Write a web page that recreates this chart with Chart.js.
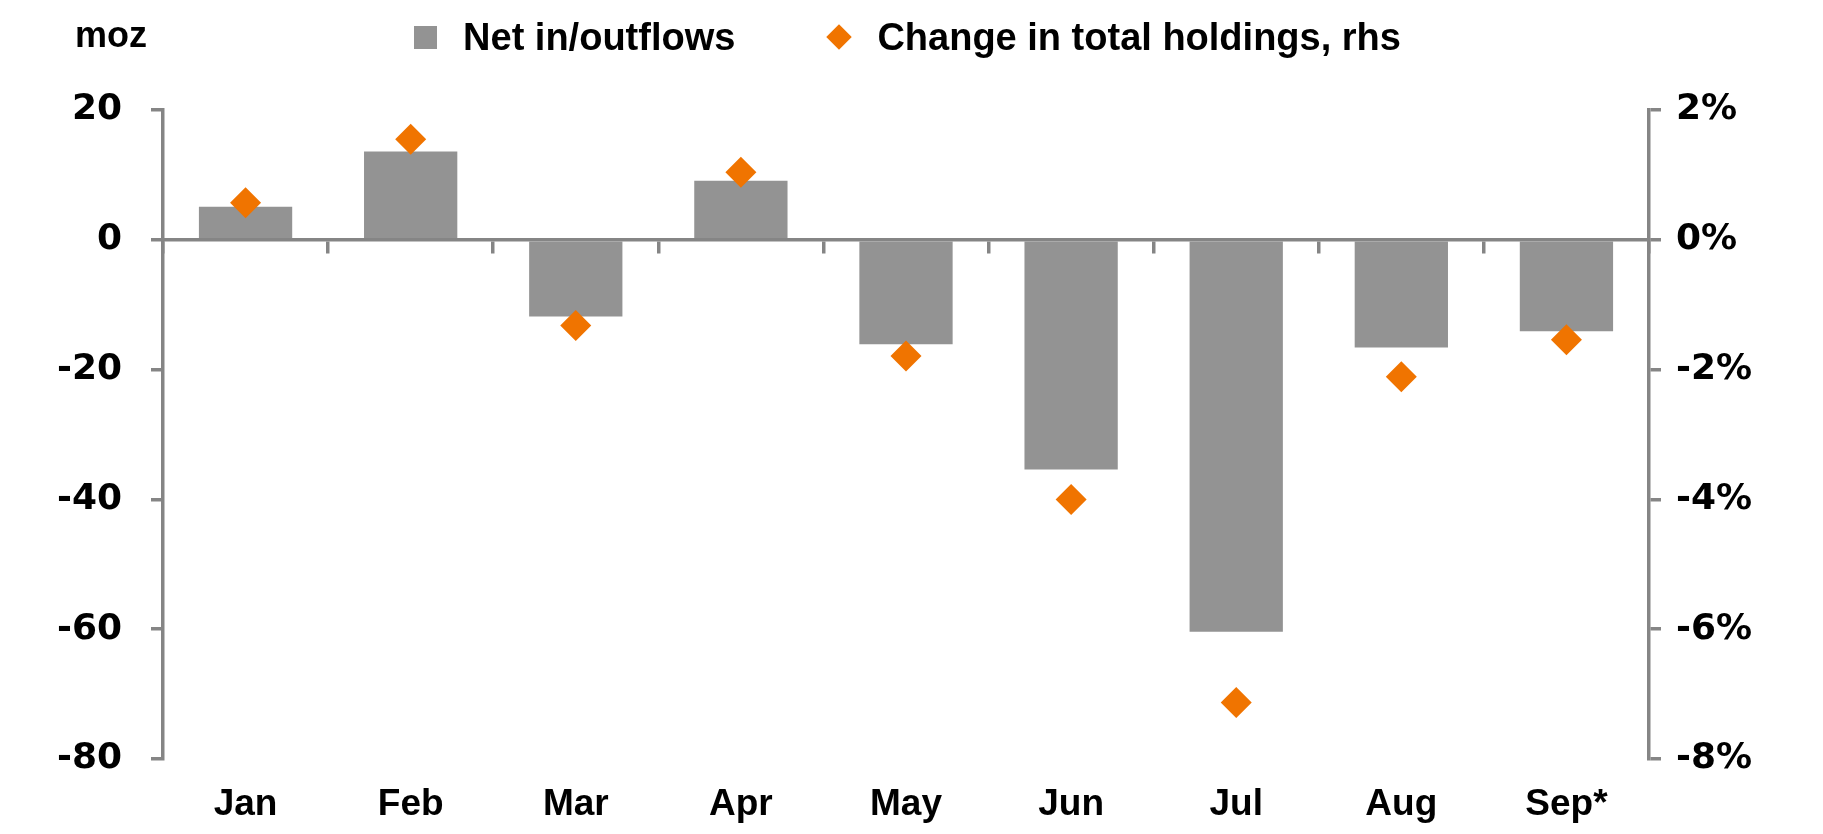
<!DOCTYPE html>
<html>
<head>
<meta charset="utf-8">
<title>Net in/outflows</title>
<script src="https://cdn.jsdelivr.net/npm/chart.js@4.4.1/dist/chart.umd.min.js"></script>
<style>
  html, body { margin: 0; padding: 0; background: #fff; }
  #wrap { position: relative; width: 1823px; height: 834px; }
  #chart { position: absolute; left: 0; top: 0; }
  .unit {
    position: absolute; left: 75px; top: 17px;
    font: bold 36px "Liberation Sans", Arial, sans-serif; line-height: 36px; color: #000;
  }
  .legend {
    position: absolute; left: 0; top: 18px; width: 1823px;
    display: flex; justify-content: center; align-items: center;
    font: bold 38px "Liberation Sans", Arial, sans-serif; line-height: 38px; color: #000;
  }
  .sq { width: 23px; height: 23px; background: #939393; margin-right: 26px; margin-left: -8px; }
  .dia { width: 18px; height: 18px; background: #f07400; transform: rotate(45deg); margin: 0 29px 0 95px; }
</style>
</head>
<body>
<div id="wrap">
  <canvas id="chart" width="1823" height="834"></canvas>
  <div class="unit">moz</div>
  <div class="legend" id="legend"></div>
</div>
<script>
const months = ["Jan", "Feb", "Mar", "Apr", "May", "Jun", "Jul", "Aug", "Sep*"];
const netFlows = [5.1, 13.6, -11.8, 9.1, -16.1, -35.4, -60.4, -16.6, -14.1];
const holdingsChange = [0.57, 1.55, -1.32, 1.04, -1.79, -4.0, -7.13, -2.11, -1.54];
const leftTicks = [-80, -60, -40, -20, 0, 20];
const rightTicks = [-8, -6, -4, -2, 0, 2];
const seriesNames = ["Net in/outflows", "Change in total holdings, rhs"];

const GREY = "#939393";
const ORANGE = "#f07400";
const AXIS = "#858585";

// legend drawn as html so the spacing matches
function renderLegend() {
  const legend = document.getElementById("legend");
  legend.innerHTML = "";
  const sq = document.createElement("span");
  sq.className = "sq";
  legend.appendChild(sq);
  const t1 = document.createElement("span");
  t1.textContent = seriesNames[0];
  legend.appendChild(t1);
  const dia = document.createElement("span");
  dia.className = "dia";
  legend.appendChild(dia);
  const t2 = document.createElement("span");
  t2.textContent = seriesNames[1];
  legend.appendChild(t2);
}

function yAxis(ticks, side, width, fmt, pad) {
  return {
    position: side,
    min: ticks[0],
    max: ticks[ticks.length - 1],
    afterFit: (s) => { s.width = width; },
    ticks: {
      stepSize: ticks[1] - ticks[0],
      padding: pad,
      color: "#000",
      font: { family: '"DejaVu Sans", sans-serif', size: 36, weight: "bold" },
      callback: fmt,
    },
    grid: {
      drawOnChartArea: false,
      drawTicks: true,
      tickLength: 12,
      color: AXIS,
      lineWidth: 3.5,
    },
    border: { display: true, color: AXIS, width: 3.5 },
  };
}

function drawChart() {
  const ctx = document.getElementById("chart").getContext("2d");
  new Chart(ctx, {
    data: {
      labels: months,
      datasets: [
        {
          type: "line",
          label: seriesNames[1],
          data: holdingsChange,
          yAxisID: "y1",
          showLine: false,
          pointStyle: "rectRot",
          pointRadius: 15.5,
          pointBackgroundColor: ORANGE,
          pointBorderWidth: 0,
          clip: false,
          order: 0,
        },
        {
          type: "bar",
          label: seriesNames[0],
          data: netFlows,
          yAxisID: "y",
          backgroundColor: GREY,
          barPercentage: 0.565,
          categoryPercentage: 1.0,
          order: 1,
        },
      ],
    },
    options: {
      responsive: false,
      animation: false,
      layout: { padding: { top: 110, bottom: 0, left: 0, right: 0 } },
      plugins: {
        legend: { display: false },
        tooltip: { enabled: false },
      },
      scales: {
        // axis line sitting on zero, with the small ticks between months
        x: {
          type: "category",
          position: { y: 0 },
          offset: true,
          ticks: { display: false },
          grid: {
            offset: true,
            drawOnChartArea: false,
            drawTicks: true,
            tickLength: 12,
            color: AXIS,
            lineWidth: 3.5,
          },
          border: { display: true, color: AXIS, width: 3.5 },
        },
        // month names at the bottom
        xl: {
          type: "category",
          position: "bottom",
          offset: true,
          afterFit: (s) => { s.height = 75; },
          grid: { display: false, drawTicks: false },
          border: { display: false },
          ticks: {
            color: "#000",
            padding: 24,
            maxRotation: 0,
            autoSkip: false,
            font: { family: '"Liberation Sans", sans-serif', size: 37, weight: "bold" },
          },
        },
        y: yAxis(leftTicks, "left", 163, (v) => v, 29),
        y1: yAxis(rightTicks, "right", 174, (v) => v + "%", 15),
      },
    },
  });
}

renderLegend();
drawChart();
</script>
</body>
</html>
